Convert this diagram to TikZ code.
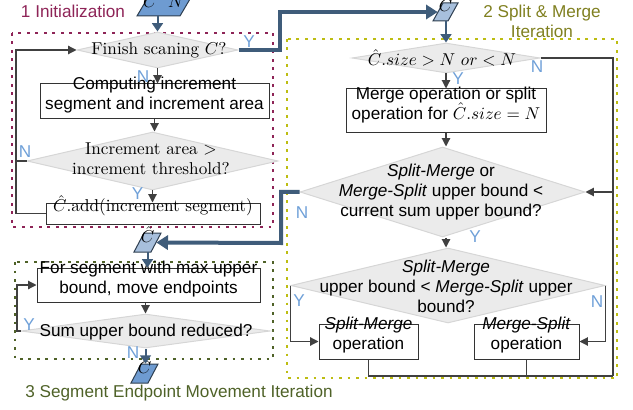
\RequirePackage{fix-cm}
\documentclass[tikz,border=0pt]{standalone}
\usepackage{fontspec}
\setsansfont{Liberation Sans}
\usetikzlibrary{arrows.meta,shapes.geometric,fit}
\definecolor{cred}{HTML}{8E2457}
\definecolor{colive}{HTML}{BDBD12}
\definecolor{colivetxt}{HTML}{808020}
\definecolor{cgreen}{HTML}{4F6228}
\definecolor{cnavy}{HTML}{3F5C7A}
\definecolor{cblue}{HTML}{6E9BD1}
\definecolor{clight}{HTML}{A7BFDC}
\definecolor{clbl}{HTML}{6FA0D8}
\definecolor{cgray}{HTML}{404040}
\definecolor{cbox}{HTML}{333333}
\definecolor{cdfill}{HTML}{EBEBEB}
\definecolor{cdline}{HTML}{D6D6D6}
\definecolor{cpline}{HTML}{2E3E50}
\newcommand\mypgram[7]{%
  \filldraw[fill=#6, draw=cpline, line width=0.6pt] ({#2-5},#5) -- ({#4-5},#5) -- ({#4+5},#3) -- ({#2+5},#3) -- cycle;
  \node[inner sep=0pt, fit={(#2,#3) (#4,#5)}] (#1) {#7};}
\begin{document}
\begin{tikzpicture}[x=0.6pt,y=-0.6pt,
  every node/.style={font=\fontsize{10.3}{12}\selectfont},
  sf/.style={font=\fontsize{10.3}{12}\selectfont\sffamily},
  box/.style={sf, draw=cbox, line width=0.6pt, fill=white, inner sep=0pt, align=center},
  dia/.style={shape=diamond, draw=cdline, fill=cdfill, line width=0.6pt, inner sep=0pt},
  dsz/.style n args={2}{minimum width={#1*0.6pt}, minimum height={#2*0.6pt}},
  dtxt/.style={align=center, inner sep=0pt},
  yn/.style={sf, text=clbl, inner sep=0pt},
  ln/.style={draw=cgray, line width=0.7pt},
  arr/.style={ln, -{Triangle[width=5pt,length=5pt]}},
  bigarr/.style={draw=cnavy, line width=2.4pt, -{Triangle[width=8.5pt,length=7pt]}},
  midarr/.style={draw=cnavy, line width=1.2pt, -{Triangle[width=6.5pt,length=5pt]}},
  dotbox/.style={line width=1.6pt, dash pattern=on 1.6pt off 3.5pt},
  ttl/.style={sf, inner sep=0pt, align=center}]
\useasboundingbox (0,0) rectangle (633,410);

% dotted frames
\draw[dotbox, cred] (12,33) rectangle (273,227);
\draw[dotbox, colive] (287,39) rectangle (617,378);
\draw[dotbox, cgreen] (15,262) rectangle (273,359);

% titles
\node[ttl, text=cred] (t1) at (73,11) {1 Initialization};
\node[ttl, text=colivetxt] (t2) at (542,21) {2 Split \& Merge\\Iteration};
\node[ttl, text=cgreen] (t3) at (179,393) {3 Segment Endpoint Movement Iteration};

% section 1
\node[dia, dsz={161}{36}] (d1) at (157.5,50) {};
\node[dtxt] (d1t) at (159,50) {Finish scaning $C$?};
\node[box, fit={(40,84) (269,119)}] (b1) {Computing increment\\segment and increment area};
\node[dia, dsz={251}{58}] (d2) at (152.5,161) {};
\node[dtxt] (d2t) at (151,159) {Increment area $>$\\increment threshold?};
\node[box, font=\fontsize{10.3}{12}\selectfont\rmfamily, fit={(46,203) (260,224)}] (b2) {$\hat{C}$.add(increment segment)};

\mypgram{cn}{142}{-1}{185}{16}{cblue}{$C\ \ N$}
\mypgram{c2}{438}{3}{453}{21}{clight}{$\hat{C}$}
\mypgram{c3}{139}{233}{156}{252}{clight}{$\hat{C}$}
\mypgram{c4}{136}{364}{153}{383}{cblue}{$\hat{C}$}

% section 2
\node[dia, dsz={188}{30}] (d3) at (446,58) {};
\node[dtxt] (d3t) at (442,58) {$\hat{C}.size > N\ or < N$};
\node[box, fit={(346,89) (546,133)}] (b3) {Merge operation or split\\operation for $\hat{C}.size = N$};
\node[dia, dsz={285}{90}] (d4) at (442.5,192) {};
\node[dtxt, sf] (d4t) at (441,192) {\textit{Split-Merge} or\\\textit{Merge-Split} upper bound <\\current sum upper bound?};
\node[dia, dsz={314}{75}] (d5) at (448,285.5) {};
\node[dtxt, sf] (d5t) at (446,286) {\textit{Split-Merge}\\upper bound < \textit{Merge-Split} upper\\bound?};
\node[box, fit={(319,324) (418,359)}] (b4) {\textit{Split-Merge}\\operation};
\node[box, fit={(474,324) (579,359)}] (b5) {\textit{Merge-Split}\\operation};

% section 3
\node[box, fit={(37,268) (260,302)}] (b6) {For segment with max upper\\bound, move endpoints};
\node[dia, dsz={249}{34}] (d6) at (145.5,331) {};
\node[dtxt, sf] (d6t) at (146,332) {Sum upper bound reduced?};

% connectors
\draw[midarr] (cn.south -| d1.north) -- (d1.north);
\draw[arr] (d1.south) -- (d1.south |- b1.north);
\draw[arr] (b1.south) -- (b1.south |- d2.north);
\draw[arr] (d2.south) -- (d2.south |- b2.north);
\coordinate (k5) at (16,214);
\draw[arr] (b2.west) -- (b2.west -| k5) |- (d1.west);
\draw[ln] (d2.west) -- (d2.west -| k5);
\coordinate (k1) at (280,12);
\draw[bigarr] (d1.east) -| (k1) -- (c2.west);

\draw[midarr] (c2.south -| d3.north) -- (d3.north);
\draw[arr] (d3.south) -- (d3.south |- b3.north);
\draw[arr] (b3.south) -- (b3.south |- d4.north);
\draw[arr] (d4.south -| b3.south) -- (b3.south |- d5.north);
\coordinate (k2) at (281,243);
\draw[bigarr] (d4.west) -| (k2) -- (c3.east);
\draw[arr] (d5.west) |- (b4.west);
\draw[arr] (d5.east) |- (b5.east);
\coordinate (k3) at (613,376);
\draw[ln] (d3.east) -| (k3);
\draw[ln] (b4.south) |- (k3);
\draw[ln] (b5.south) -- (b5.south |- k3);
\draw[arr] (k3 |- d4.east) -- (d4.east);

\draw[midarr] (c3.south) -- (c3.south |- b6.north);
\draw[arr] (b6.south -| d6.north) -- (d6.north);
\coordinate (k4) at (17,331);
\draw[arr] (d6.west) -- (k4) |- (b6.west);
\draw[midarr] (d6.south) -- (d6.south |- c4.north);

% Y/N labels
\node[yn] (y1) at (249,42) {Y};
\node[yn] (n1) at (143,77) {N};
\node[yn] (n2) at (25,152) {N};
\node[yn] (y2) at (137.5,194) {Y};
\node[yn] (n3) at (537,67) {N};
\node[yn] (y3) at (458,79) {Y};
\node[yn] (n4) at (302,213) {N};
\node[yn] (y4) at (475,237) {Y};
\node[yn] (y5) at (299,301) {Y};
\node[yn] (n5) at (597,302) {N};
\node[yn] (y6) at (29,325) {Y};
\node[yn] (n6) at (133,353) {N};
\end{tikzpicture}
\end{document}
